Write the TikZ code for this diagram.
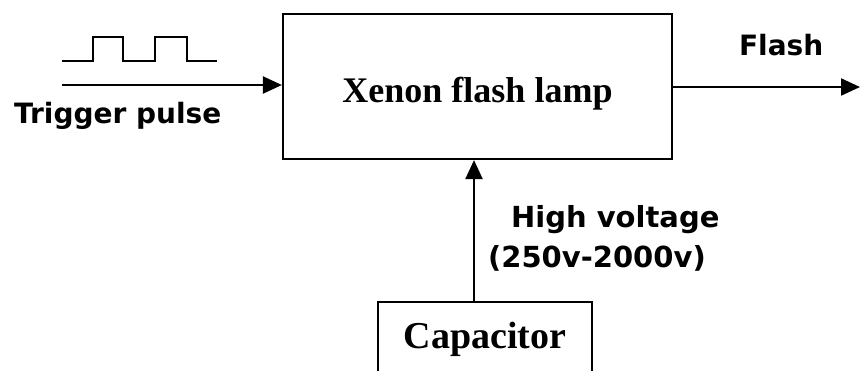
\documentclass[tikz,border=0pt]{standalone}
\usepackage{fontspec}
\setmainfont{Liberation Serif}
\newfontfamily\labfont{DejaVu Sans}
\usetikzlibrary{arrows.meta}
\begin{document}
\begin{tikzpicture}[x=0.5pt,y=-0.5pt,
  line width=1.1pt,
  boxstyle/.style={draw, line width=1.1pt, inner sep=0pt, font=\bfseries\fontsize{18}{21}\selectfont},
  lab/.style={anchor=base west, inner sep=0pt, font=\labfont\bfseries\fontsize{14}{17}\selectfont},
  arr/.style={-{Triangle[length=9.5pt,width=8.5pt]}, line width=1.1pt}]
\useasboundingbox (0,0) rectangle (860,370);
% main box
\node[boxstyle, minimum width=194.5pt, minimum height=72.5pt, text height=15.5pt, text depth=0pt] (main) at (477.5,86.5) {Xenon flash lamp};
% capacitor box
\node[boxstyle, font=\bfseries\fontsize{19}{22}\selectfont, minimum width=107pt, minimum height=38pt, text height=12pt, text depth=4pt] (cap) at (485,340) {Capacitor\hspace{10pt}};
% coordinates
\coordinate (trig) at (62,85);
\coordinate (flashend) at (860,87);
\coordinate (hvx) at (474,0);
% connectors
\draw[arr] (trig) -- (trig -| main.west);
\draw[arr] (main.east |- flashend) -- (flashend);
\draw[arr] (cap.north -| hvx) -- (main.south -| hvx);
% pulse train
\draw (62,61) -- (93,61) -- (93,37) -- (123,37) -- (123,61) -- (155,61) -- (155,37) -- (187,37) -- (187,61) -- (217,61);
% labels
\node[lab] (tl) at (13,123) {Trigger pulse};
\node[lab] (fl) at (738,55) {Flash};
\node[lab, font=\labfont\bfseries\fontsize{14.5}{17}\selectfont] (hv1) at (510,227) {High voltage};
\node[lab, font=\labfont\bfseries\fontsize{14.5}{17}\selectfont] (hv2) at (487,267) {(250v-2000v)};
\end{tikzpicture}
\end{document}
